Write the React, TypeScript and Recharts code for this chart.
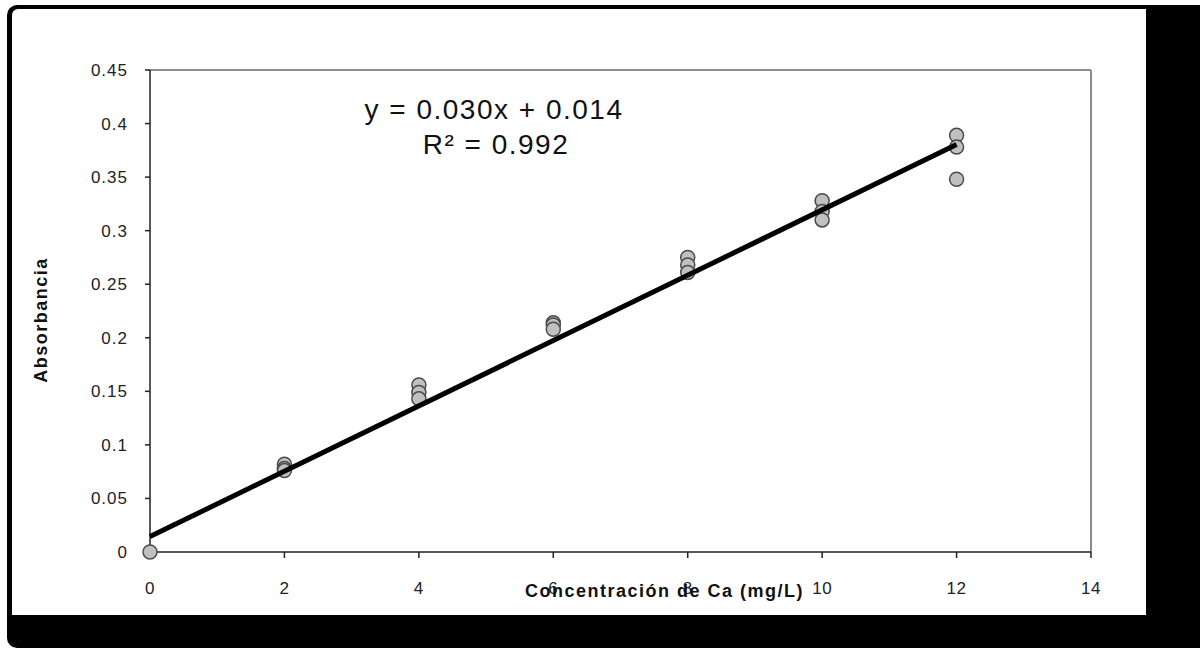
import { ScatterChart, Scatter, XAxis, YAxis, ReferenceLine } from "recharts";

// Calibration points: concentration (mg/L) and measured absorbance
const CONC_X = [0, 2, 2, 2, 4, 4, 4, 6, 6, 6, 8, 8, 8, 10, 10, 10, 12, 12, 12];
const ABS_Y = [
  0, 0.082, 0.078, 0.076, 0.156, 0.149, 0.143, 0.214, 0.212, 0.208, 0.275,
  0.268, 0.261, 0.328, 0.318, 0.31, 0.389, 0.378, 0.348,
];

const X_TICKS = [0, 2, 4, 6, 8, 10, 12, 14];
const Y_TICKS = [0, 0.05, 0.1, 0.15, 0.2, 0.25, 0.3, 0.35, 0.4, 0.45];

// Linear fit shown on the chart (y = 0.030x + 0.014)
const SLOPE = 0.0305;
const INTERCEPT = 0.0144;
const TREND_X = [0, 12];

const EQUATION = "y = 0.030x + 0.014";
const R2_TEXT = "R² = 0.992";

const FONT = "'Liberation Sans', Arial, sans-serif";
const AXIS = "#222";

const points = CONC_X.map((x, i) => ({ x, y: ABS_Y[i] }));
const trend = TREND_X.map((x) => ({ x, y: INTERCEPT + SLOPE * x }));

const Dot = (p: any) => (
  <circle cx={p.cx} cy={p.cy} r={7} fill="#c0c0c0" stroke="#4a4a4a" strokeWidth={1.5} />
);

export default function App() {
  return (
    <div style={{ position: "fixed", left: 0, top: 0, width: 1200, height: 648, background: "#fff" }}>
      {/* black drop-shadow frame */}
      <div
        style={{
          position: "absolute",
          left: 7,
          top: 5,
          width: 1193,
          height: 643,
          background: "#000",
          borderRadius: "10px 0 0 10px",
        }}
      />
      <div
        style={{
          position: "absolute",
          left: 12,
          top: 9,
          width: 1134,
          height: 606,
          background: "#fff",
          borderRadius: "6px 0 0 0",
        }}
      />
      <div style={{ position: "absolute", left: 0, top: 0 }}>
        <ScatterChart
          width={1200}
          height={648}
          margin={{ top: 70, right: 109, bottom: 56, left: 80 }}
          style={{ fontFamily: FONT }}
        >
          <XAxis
            type="number"
            dataKey="x"
            domain={[0, 14]}
            ticks={X_TICKS}
            interval={0}
            height={40}
            tickSize={6}
            tickMargin={24}
            axisLine={{ stroke: AXIS, strokeWidth: 1.5 }}
            tickLine={{ stroke: AXIS, strokeWidth: 1.5 }}
            tick={{ fill: "#222", fontSize: 17, fontFamily: FONT, letterSpacing: 0.5 }}
            label={{
              value: "Concentración de Ca (mg/L)",
              position: "insideBottom",
              offset: -5,
              dx: 44,
              style: { fontWeight: "bold", fontSize: 18, letterSpacing: 1.5, fill: "#111", fontFamily: FONT },
            }}
          />
          <YAxis
            type="number"
            dataKey="y"
            domain={[0, 0.45]}
            ticks={Y_TICKS}
            interval={0}
            width={70}
            tickSize={5}
            tickMargin={17}
            axisLine={{ stroke: AXIS, strokeWidth: 1.5 }}
            tickLine={{ stroke: AXIS, strokeWidth: 1.5 }}
            tick={{ fill: "#222", fontSize: 17, fontFamily: FONT, letterSpacing: 1 }}
            label={{
              content: ({ viewBox }: any) => (
                <text
                  transform={`translate(${viewBox.x - 33},${viewBox.y + viewBox.height / 2 + 9}) rotate(-90)`}
                  textAnchor="middle"
                  fontWeight="bold"
                  fontSize={18}
                  letterSpacing={1.5}
                  fill="#111"
                  fontFamily={FONT}
                >
                  Absorbancia
                </text>
              ),
            }}
          />
          <ReferenceLine y={0.45} stroke="#8c8c8c" strokeWidth={2} />
          <ReferenceLine x={14} stroke="#8c8c8c" strokeWidth={2} />
          <Scatter data={points} shape={Dot} isAnimationActive={false} />
          <Scatter
            data={trend}
            line={{ stroke: "#000", strokeWidth: 5 }}
            shape={() => <g />}
            isAnimationActive={false}
          />
          <text x={494} y={119} textAnchor="middle" fontSize={28} letterSpacing={1.5} fill="#111" fontFamily={FONT}>
            {EQUATION}
          </text>
          <text x={496} y={154} textAnchor="middle" fontSize={28} letterSpacing={1.5} fill="#111" fontFamily={FONT}>
            {R2_TEXT}
          </text>
        </ScatterChart>
      </div>
    </div>
  );
}
